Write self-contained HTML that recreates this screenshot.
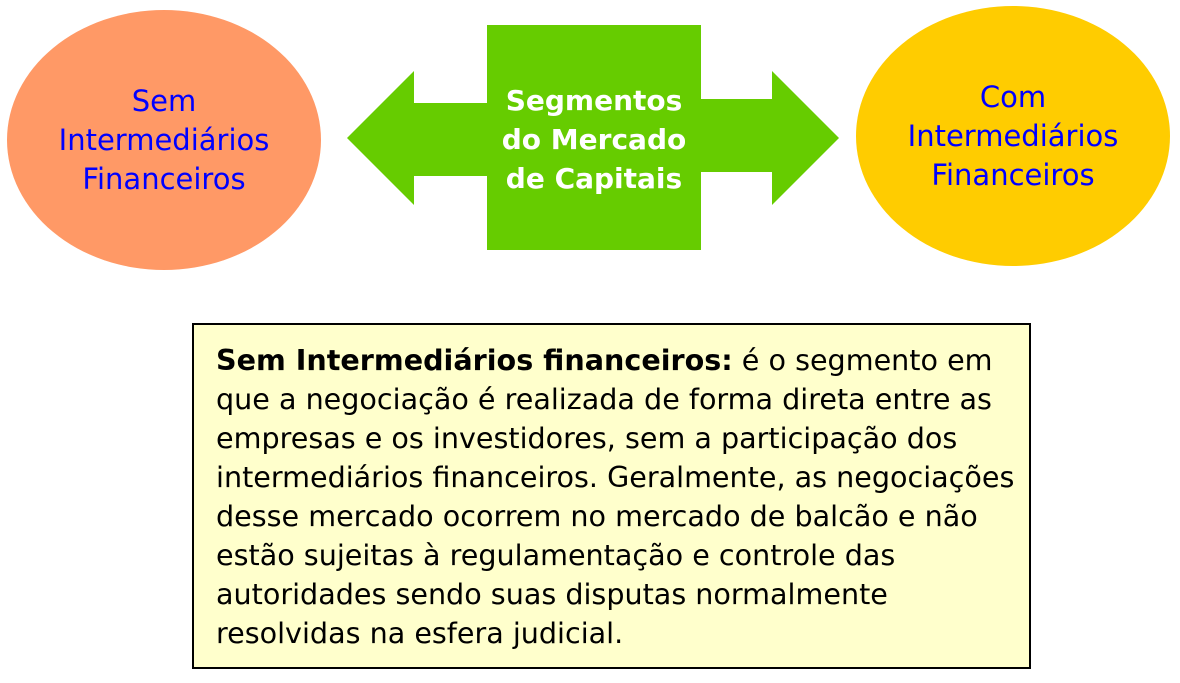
<!DOCTYPE html>
<html><head><meta charset="utf-8"><style>
body{margin:0;width:1180px;height:683px;background:#fff;position:relative;overflow:hidden;font-family:"DejaVu Sans","Liberation Sans",sans-serif}
.t{position:absolute;text-align:center;color:#0000ff;font-size:29px;line-height:39px}
#box{position:absolute;left:192px;top:323px;width:835px;height:342px;border:2px solid #000;background:#ffffcc}
#box div{position:absolute;left:22px;font-size:28.6px;line-height:39px;white-space:nowrap;color:#000}
</style></head><body>
<svg width="1180" height="683" style="position:absolute;left:0;top:0">
<ellipse cx="164" cy="140" rx="157" ry="130" fill="#ff9966"/>
<ellipse cx="1013" cy="136" rx="157" ry="130" fill="#ffcc00"/>
<polygon points="347,138 414,71 414,103 488,103 488,176 414,176 414,205" fill="#66cc00"/>
<polygon points="839,138 772,71 772,99 700,99 700,172 772,172 772,205" fill="#66cc00"/>
<rect x="487" y="25" width="214" height="225" fill="#66cc00"/>
</svg>
<div class="t" style="left:7px;top:82px;width:314px">Sem<br>Intermediários<br>Financeiros</div>
<div class="t" style="left:856px;top:78px;width:314px">Com<br>Intermediários<br>Financeiros</div>
<div class="t" style="left:477px;top:81px;width:234px;color:#fff;font-weight:bold;font-size:28px">Segmentos<br>do Mercado<br>de Capitais</div>
<div id="box">
<div style="top:16px"><b>Sem Intermediários financeiros:</b> é o segmento em</div>
<div style="top:55px">que a negociação é realizada de forma direta entre as</div>
<div style="top:94px">empresas e os investidores, sem a participação dos</div>
<div style="top:133px">intermediários financeiros. Geralmente, as negociações</div>
<div style="top:172px">desse mercado ocorrem no mercado de balcão e não</div>
<div style="top:211px">estão sujeitas à regulamentação e controle das</div>
<div style="top:250px">autoridades sendo suas disputas normalmente</div>
<div style="top:289px">resolvidas na esfera judicial.</div>
</div>
</body></html>
